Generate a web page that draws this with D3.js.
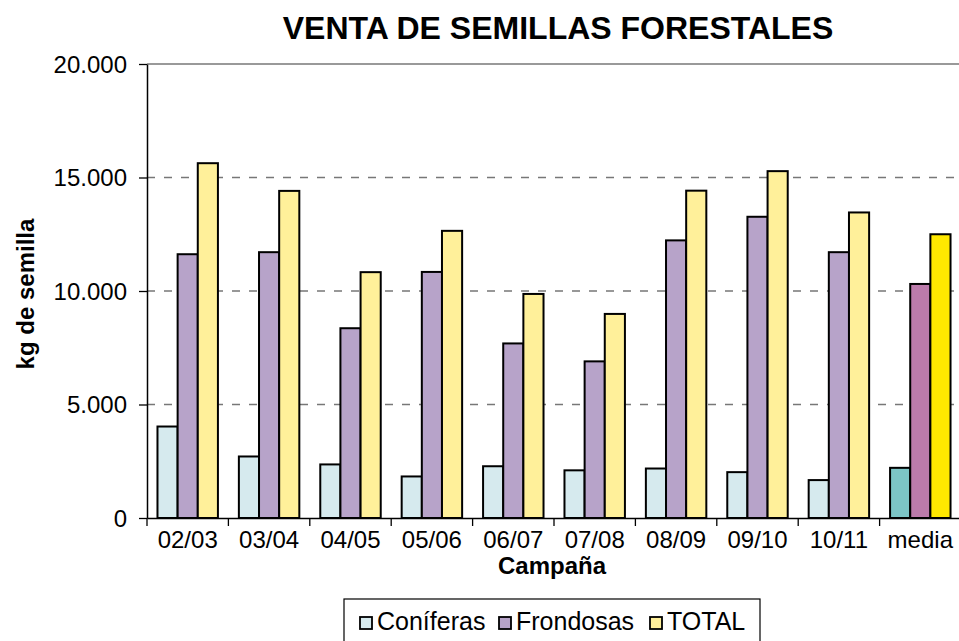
<!DOCTYPE html>
<html>
<head>
<meta charset="utf-8">
<script src="https://cdn.jsdelivr.net/npm/d3@7"></script>
<style>
body{margin:0;background:#fff;}
text{font-family:"Liberation Sans",Arial,sans-serif;}
</style>
</head>
<body>
<svg width="959" height="641"></svg>
<script>
const campanas=['02/03','03/04','04/05','05/06','06/07','07/08','08/09','09/10','10/11','media'];
const coniferas=[4030,2710,2360,1830,2280,2100,2180,2020,1670,2210];
const frondosas=[11620,11710,8360,10840,7690,6900,12230,13270,11710,10310];
const total=[15630,14410,10830,12650,9870,8990,14420,15280,13460,12500];
const series=['Coníferas','Frondosas','TOTAL'];
const yTicks=[0,5000,10000,15000,20000];

const colors=['#d6eaee','#b7a3c9','#fff09a'];
const mediaColors=['#7cc5c6','#bc7bab','#ffe800'];

const svg=d3.select('svg');
const margin={top:64,right:-2,bottom:123,left:147};
const W=959,H=641;

const x=d3.scaleBand().domain(campanas).range([margin.left,W-margin.right]);
const y=d3.scaleLinear().domain([0,20000]).range([H-margin.bottom,margin.top]);
const xs=d3.scaleBand().domain(series).range([0,x.bandwidth()]).paddingOuter(0.52).paddingInner(0);

const fmt=d=>d3.format(',')(d).replace(/,/g,'.');

/*** title ***/
svg.append('text').attr('x',558).attr('y',39).attr('text-anchor','middle')
  .style('font-size','32px').style('font-weight','bold').text('VENTA DE SEMILLAS FORESTALES');

/*** gridlines ***/
svg.append('g').selectAll('line').data(yTicks.filter(d=>d>0)).enter().append('line')
  .attr('x1',margin.left).attr('x2',W).attr('y1',d=>y(d)).attr('y2',d=>y(d))
  .attr('stroke','#777').attr('stroke-width',1.6)
  .attr('stroke-dasharray',d=>d===20000?null:'8,9');

/*** bars ***/
const rows=campanas.map((c,i)=>({c,vals:[coniferas[i],frondosas[i],total[i]]}));
const g=svg.append('g').selectAll('g').data(rows).enter().append('g')
  .attr('transform',d=>`translate(${x(d.c)},0)`);
g.selectAll('rect').data(d=>d.vals.map((v,j)=>({v,s:series[j],j,media:d.c==='media'}))).enter()
  .append('rect')
  .attr('x',d=>xs(d.s)).attr('width',xs.bandwidth())
  .attr('y',d=>y(d.v)).attr('height',d=>y(0)-y(d.v))
  .attr('fill',d=>d.media?mediaColors[d.j]:colors[d.j])
  .attr('stroke','#000').attr('stroke-width',2);

/*** axes ***/
const yAxis=svg.append('g').attr('transform',`translate(${margin.left},0)`)
  .call(d3.axisLeft(y).tickValues(yTicks).tickFormat(fmt).tickSize(8).tickSizeOuter(0));
const xAxis=svg.append('g').attr('transform',`translate(0,${y(0)})`)
  .call(d3.axisBottom(x).tickSize(0).tickSizeOuter(0));
[yAxis,xAxis].forEach(a=>{
  a.select('.domain').attr('stroke','#000').attr('stroke-width',1.5);
  a.selectAll('.tick line').attr('stroke','#000').attr('stroke-width',1.3);
  a.selectAll('.tick text').style('font-size','24px').attr('fill','#000')
    .style('font-family','"Liberation Sans",Arial,sans-serif');
});
yAxis.selectAll('.tick text').attr('x',-20).attr('dy','0.35em');
xAxis.selectAll('.tick text').attr('dy',0).attr('y',30);
// band boundary ticks
xAxis.append('g').selectAll('line').data(campanas).enter().append('line')
  .attr('x1',d=>x(d)).attr('x2',d=>x(d)).attr('y1',0).attr('y2',8)
  .attr('stroke','#000').attr('stroke-width',1.3);

/*** axis titles ***/
svg.append('text').attr('x',552).attr('y',574).attr('text-anchor','middle')
  .style('font-size','24px').style('font-weight','bold').text('Campaña');
svg.append('text').attr('transform','translate(34,294) rotate(-90)').attr('text-anchor','middle')
  .style('font-size','24px').style('font-weight','bold').text('kg de semilla');

/*** legend ***/
const lg=svg.append('g').attr('transform','translate(344,599)');
lg.append('rect').attr('width',416).attr('height',50).attr('fill','#fff')
  .attr('stroke','#000').attr('stroke-width',1.2);
const lx=[16,155,306];
series.forEach((s,i)=>{
  const it=lg.append('g').attr('transform',`translate(${lx[i]},0)`);
  it.append('rect').attr('x',0).attr('y',18).attr('width',12).attr('height',12)
    .attr('fill',colors[i]).attr('stroke','#000').attr('stroke-width',1.8);
  it.append('text').attr('x',17).attr('y',31).style('font-size','25px').text(s);
});
</script>
</body>
</html>
